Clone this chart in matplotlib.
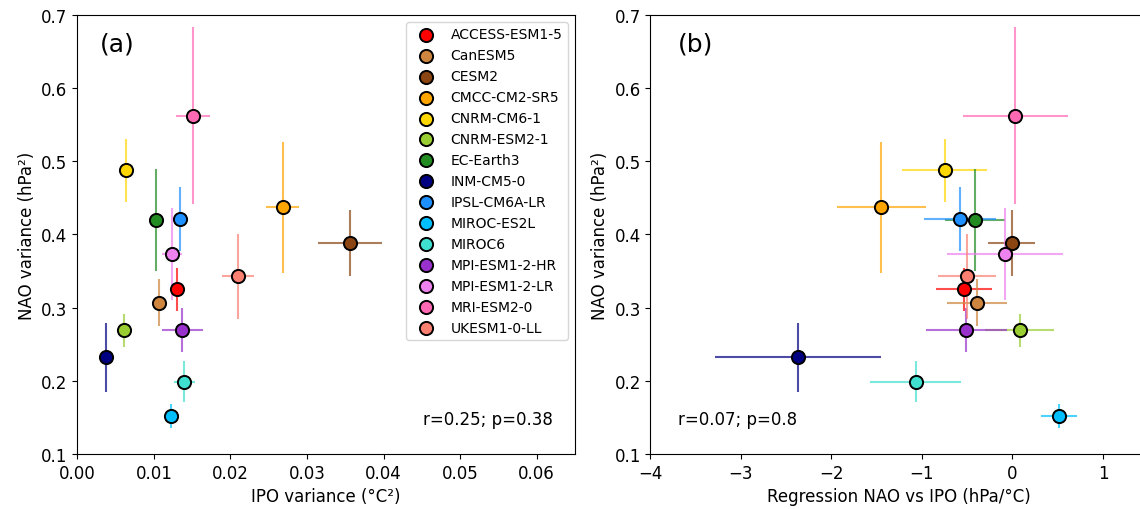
import matplotlib
matplotlib.use("Agg")
import matplotlib.pyplot as plt

# CMIP6 models, one point each
models = ["ACCESS-ESM1-5", "CanESM5", "CESM2", "CMCC-CM2-SR5", "CNRM-CM6-1",
          "CNRM-ESM2-1", "EC-Earth3", "INM-CM5-0", "IPSL-CM6A-LR", "MIROC-ES2L",
          "MIROC6", "MPI-ESM1-2-HR", "MPI-ESM1-2-LR", "MRI-ESM2-0", "UKESM1-0-LL"]
colors = ["red", "peru", "saddlebrown", "orange", "gold",
          "yellowgreen", "forestgreen", "navy", "dodgerblue", "deepskyblue",
          "turquoise", "darkorchid", "violet", "hotpink", "salmon"]

ipo_var = [0.0130, 0.0107, 0.0356, 0.0268, 0.0064, 0.0061, 0.0103, 0.0037,
           0.0134, 0.0123, 0.0140, 0.0137, 0.0124, 0.0151, 0.0210]
ipo_var_err = [0.0004, 0.0004, 0.0042, 0.0022, 0.0004, 0.0004, 0.0010, 0.0003,
               0.0004, 0.0005, 0.0014, 0.0027, 0.0013, 0.0022, 0.0021]
nao_var = [0.325, 0.307, 0.388, 0.437, 0.488, 0.269, 0.420, 0.232,
           0.421, 0.152, 0.199, 0.269, 0.373, 0.562, 0.343]
nao_var_err = [0.029, 0.032, 0.045, 0.089, 0.043, 0.023, 0.070, 0.047,
               0.044, 0.017, 0.028, 0.030, 0.063, 0.121, 0.058]
regr = [-0.54, -0.39, -0.01, -1.45, -0.75, 0.08, -0.41, -2.37,
        -0.58, 0.51, -1.07, -0.51, -0.08, 0.03, -0.50]
regr_err = [0.31, 0.33, 0.26, 0.49, 0.47, 0.38, 0.33, 0.92,
            0.40, 0.20, 0.50, 0.45, 0.64, 0.58, 0.32]

stats_a = "r=0.25; p=0.38"
stats_b = "r=0.07; p=0.8"

fig = plt.figure(figsize=(11.4, 5.1), dpi=100)
ax1 = fig.add_axes([0.0678, 0.1078, 0.4366, 0.861])
ax2 = fig.add_axes([0.5706, 0.1078, 0.4366, 0.861])


def draw(ax, xs, xerrs):
    for i, m in enumerate(models):
        ax.errorbar(xs[i], nao_var[i], xerr=xerrs[i], yerr=nao_var_err[i],
                    fmt="none", ecolor=colors[i], elinewidth=1.5, alpha=0.7,
                    capsize=0, zorder=2)
        ax.scatter(xs[i], nao_var[i], s=90, color=colors[i], edgecolor="black",
                   linewidth=1.4, label=m, zorder=3)
    ax.set_ylim(0.1, 0.7)
    ax.set_ylabel("NAO variance (hPa²)", fontsize=12)
    ax.tick_params(labelsize=12)


draw(ax1, ipo_var, ipo_var_err)
ax1.set_xlim(0, 0.065)
ax1.set_xlabel("IPO variance (°C²)", fontsize=12)
ax1.text(0.046, 0.935, "(a)", transform=ax1.transAxes, fontsize=18, va="center")
ax1.text(0.955, 0.08, stats_a, transform=ax1.transAxes, fontsize=12,
         ha="right", va="center")
ax1.legend(loc="upper right", fontsize=10, handletextpad=0.8)

draw(ax2, regr, regr_err)
ax2.set_xlim(-4, 1.5)
ax2.set_xlabel("Regression NAO vs IPO (hPa/°C)", fontsize=12)
ax2.text(0.055, 0.935, "(b)", transform=ax2.transAxes, fontsize=18, va="center")
ax2.text(0.055, 0.08, stats_b, transform=ax2.transAxes, fontsize=12,
         ha="left", va="center")

fig.savefig("out.png", dpi=100)
